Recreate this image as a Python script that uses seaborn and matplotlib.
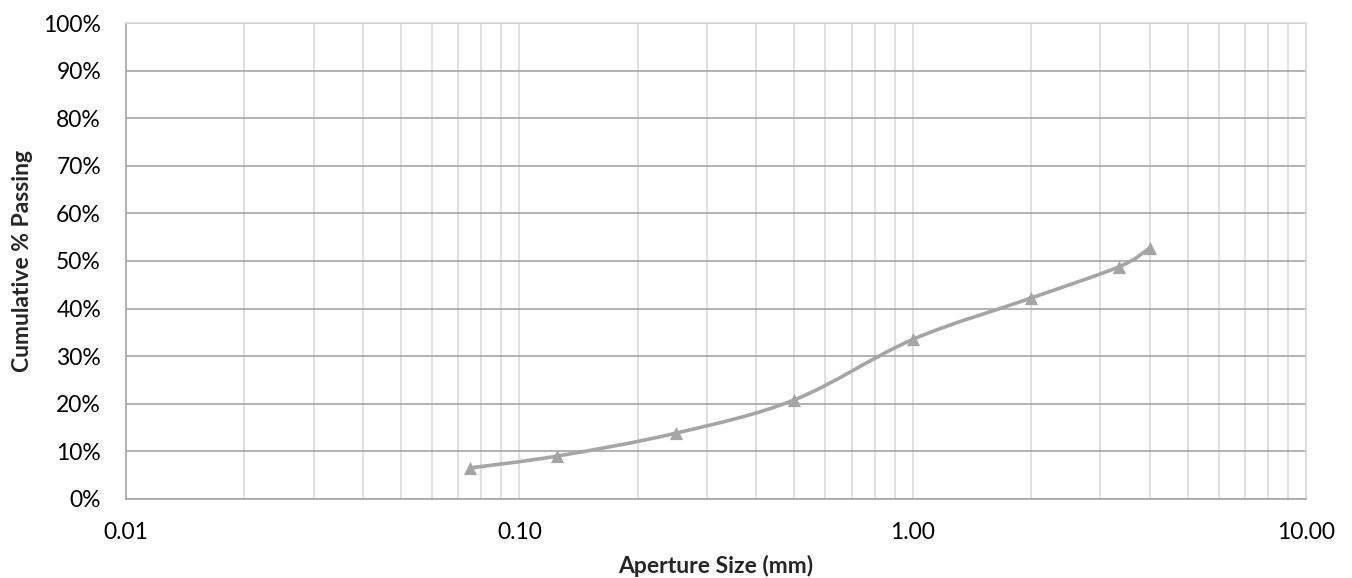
import numpy as np
import pandas as pd
import matplotlib
matplotlib.use("Agg")
import matplotlib.pyplot as plt
from matplotlib.path import Path
from matplotlib.patches import PathPatch
from matplotlib.ticker import FixedLocator, FuncFormatter, LogLocator, NullFormatter
import seaborn as sns

# Sieve data
aperture_mm = [0.075, 0.125, 0.25, 0.5, 1.0, 2.0, 3.35, 4.0]
passing_pct = [6.5, 9.0, 13.8, 20.8, 33.5, 42.2, 48.8, 52.7]

x_ticks = [0.01, 0.1, 1.0, 10.0]
y_ticks = [0, 10, 20, 30, 40, 50, 60, 70, 80, 90, 100]

df = pd.DataFrame({"aperture": aperture_mm, "passing": passing_pct})

sns.set_style("white")
plt.rcParams["font.family"] = ["Lato", "DejaVu Sans"]

LINE_COL = "#A5A5A5"

fig = plt.figure(figsize=(13.52, 5.78), dpi=100)
ax = fig.add_axes([0.0932, 0.137, 0.8728, 0.823])

ax.set_xscale("log")
ax.set_xlim(0.01, 10)
ax.set_ylim(0, 100)

# smoothed line (Excel-style bezier, built in log-x space)
lx = np.log10(df["aperture"].to_numpy())
ly = df["passing"].to_numpy()
n = len(lx)
verts = [(10 ** lx[0], ly[0])]
codes = [Path.MOVETO]
for i in range(n - 1):
    p0 = np.array([lx[max(i - 1, 0)], ly[max(i - 1, 0)]])
    p1 = np.array([lx[i], ly[i]])
    p2 = np.array([lx[i + 1], ly[i + 1]])
    p3 = np.array([lx[min(i + 2, n - 1)], ly[min(i + 2, n - 1)]])
    c1 = p1 + (p2 - p0) / 6
    c2 = p2 - (p3 - p1) / 6
    for c in (c1, c2, p2):
        verts.append((10 ** c[0], c[1]))
    codes += [Path.CURVE4] * 3
ax.add_patch(PathPatch(Path(verts, codes), facecolor="none",
                       edgecolor=LINE_COL, lw=2.6, zorder=3))

sns.scatterplot(data=df, x="aperture", y="passing", marker="^", s=90,
                color=LINE_COL, edgecolor=LINE_COL, linewidth=0, ax=ax, zorder=4)

# grid
ax.xaxis.set_major_locator(FixedLocator(x_ticks))
ax.xaxis.set_minor_locator(LogLocator(base=10, subs=np.arange(2, 10)))
ax.xaxis.set_minor_formatter(NullFormatter())
ax.xaxis.set_major_formatter(FuncFormatter(lambda v, p: f"{v:.2f}"))
ax.set_yticks(y_ticks)
ax.yaxis.set_major_formatter(FuncFormatter(lambda v, p: f"{v:.0f}%"))

ax.grid(True, axis="x", which="both", color="#D9D9D9", lw=1.2, zorder=0)
ax.grid(True, axis="y", which="major", color="#A6A6A6", lw=1.2, zorder=0)
ax.set_axisbelow(True)

for side in ["top", "right"]:
    ax.spines[side].set_color("#D9D9D9")
    ax.spines[side].set_linewidth(1.2)
for side in ["left", "bottom"]:
    ax.spines[side].set_color("#A6A6A6")
    ax.spines[side].set_linewidth(1.2)

ax.tick_params(axis="both", which="both", length=0, labelsize=16.5,
               colors="#000000")
ax.tick_params(axis="x", pad=17)
ax.tick_params(axis="y", pad=18)

ax.set_xlabel("Aperture Size (mm)", fontsize=16.5, fontweight="bold", labelpad=8)
ax.set_ylabel("Cumulative % Passing", fontsize=16.5, fontweight="bold", labelpad=7)

fig.savefig("out.png", dpi=100, facecolor="white")
